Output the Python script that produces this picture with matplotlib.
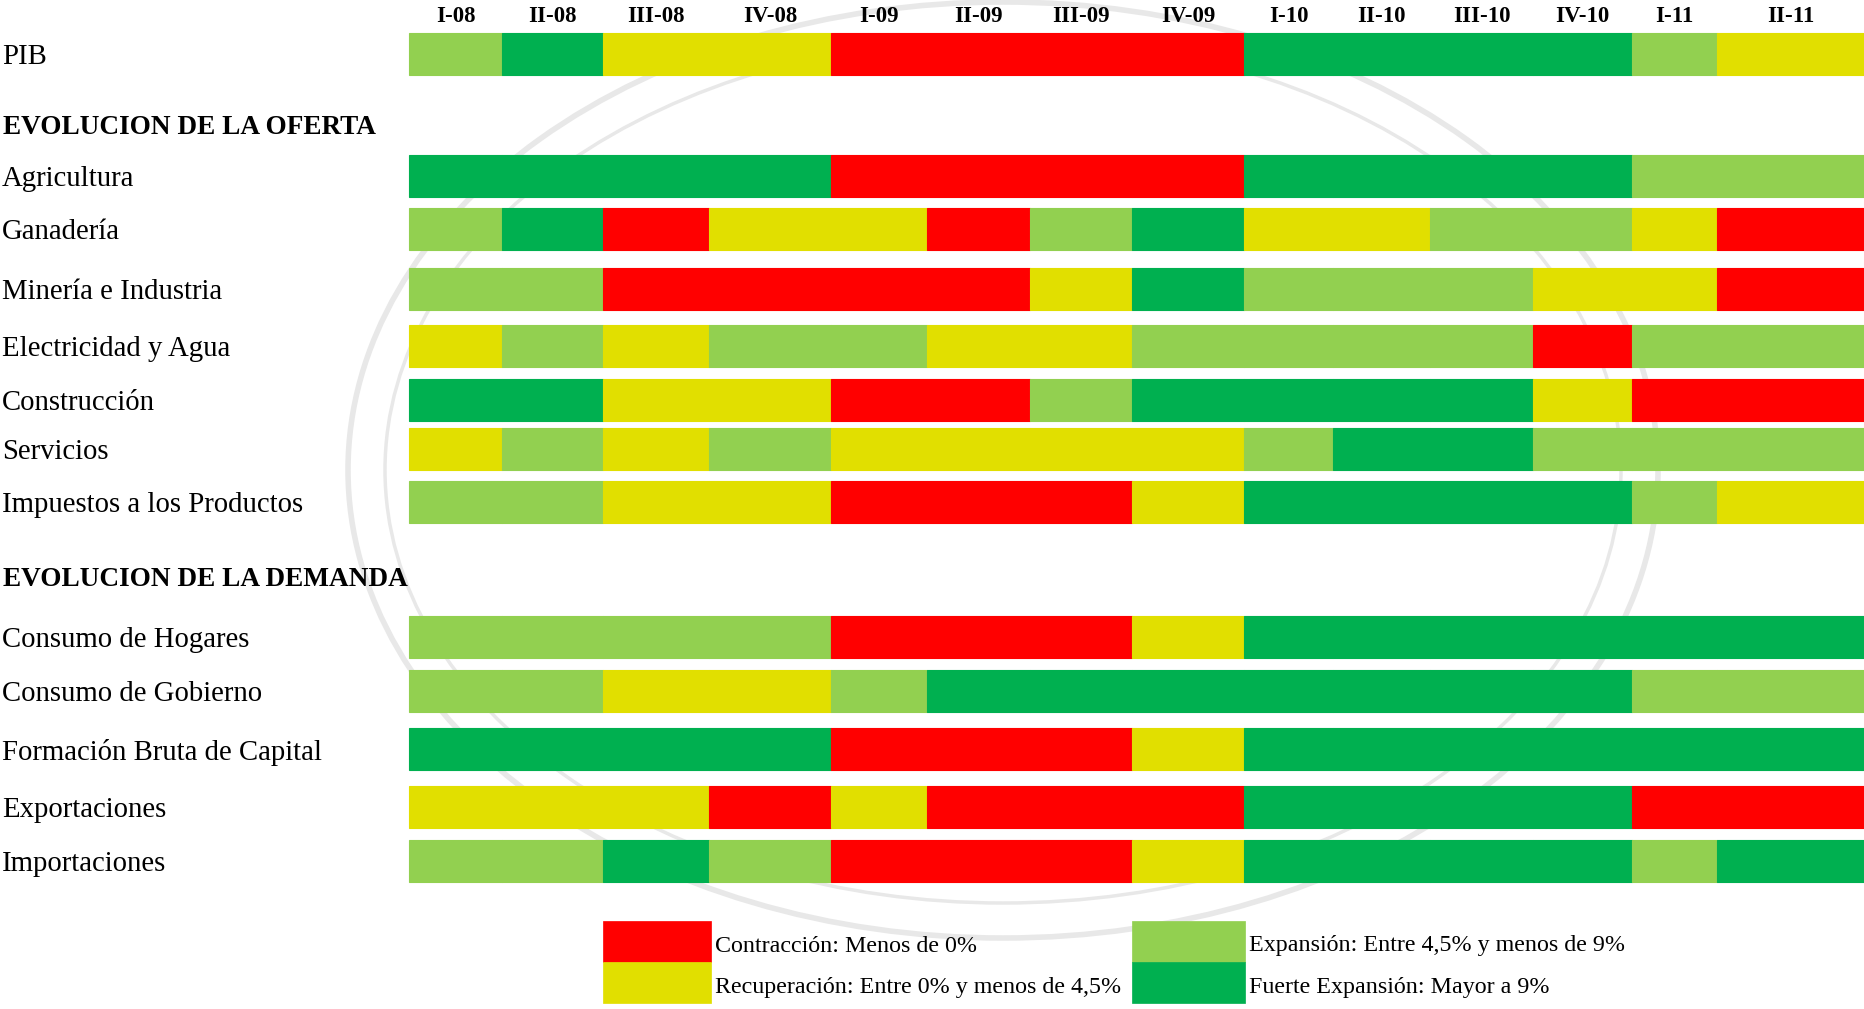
import matplotlib.pyplot as plt
from matplotlib.patches import Ellipse, Rectangle

# --- data -----------------------------------------------------------------
QUARTERS = ["I-08", "II-08", "III-08", "IV-08", "I-09", "II-09", "III-09",
            "IV-09", "I-10", "II-10", "III-10", "IV-10", "I-11", "II-11"]

# R = contraccion, Y = recuperacion, L = expansion, G = fuerte expansion
PIB = list("LGYYRRRRGGGGLY")
AGRICULTURA = list("GGGGRRRRGGGGLL")
GANADERIA = list("LGRYYRLGYYLLYR")
MINERIA = list("LLRRRRYGLLLYYR")
ELECTRICIDAD = list("YLYLLYYLLLLRLL")
CONSTRUCCION = list("GGYYRRLGGGGYRR")
SERVICIOS = list("YLYLYYYYLGGLLL")
IMPUESTOS = list("LLYYRRRYGGGGLY")
CONSUMO_HOGARES = list("LLLLRRRYGGGGGG")
CONSUMO_GOBIERNO = list("LLYYLGGGGGGGLL")
FBK = list("GGGGRRRYGGGGGG")
EXPORTACIONES = list("YYYRYRRRGGGGRR")
IMPORTACIONES = list("LLGLRRRYGGGGLG")

ROW_NAMES = ["PIB", "Agricultura", "Ganadería", "Minería e Industria",
             "Electricidad y Agua", "Construcción", "Servicios",
             "Impuestos a los Productos", "Consumo de Hogares",
             "Consumo de Gobierno", "Formación Bruta de Capital",
             "Exportaciones", "Importaciones"]
ROW_DATA = [PIB, AGRICULTURA, GANADERIA, MINERIA, ELECTRICIDAD, CONSTRUCCION,
            SERVICIOS, IMPUESTOS, CONSUMO_HOGARES, CONSUMO_GOBIERNO, FBK,
            EXPORTACIONES, IMPORTACIONES]

LEGEND_CODES = ["R", "Y", "L", "G"]
LEGEND_TEXT = ["Contracción: Menos de 0%",
               "Recuperación: Entre 0% y menos de 4,5%",
               "Expansión: Entre 4,5% y menos de 9%",
               "Fuerte Expansión: Mayor a 9%"]

# --- layout (pixels of the 1865x1009 canvas) -------------------------------
W, H = 1865, 1009
COL_EDGES = [409, 502, 603, 709, 831, 927, 1030, 1132, 1244, 1333, 1430,
             1533, 1632, 1717, 1865]
ROW_TOPS = [33, 155, 208, 268, 325, 379, 428, 481, 616, 670, 728, 786, 840]
BAR_H = 42
COLORS = {"R": "#FF0000", "Y": "#E1DF00", "L": "#92D050", "G": "#00B050"}

plt.rcParams["font.family"] = ["Liberation Serif", "DejaVu Serif"]

fig = plt.figure(figsize=(W / 100, H / 100), dpi=100)
ax = fig.add_axes([0, 0, 1, 1])
ax.set_xlim(0, W)
ax.set_ylim(H, 0)
ax.axis("off")

# faint seal watermark
for w, h, lw in [(1310, 936, 4), (1236, 866, 2.5)]:
    ax.add_patch(Ellipse((1003, 470), w, h, fill=False, edgecolor="#e8e8e8",
                         lw=lw, zorder=0))

lefts = COL_EDGES[:-1]
widths = [b - a for a, b in zip(COL_EDGES[:-1], COL_EDGES[1:])]

for top, name, codes in zip(ROW_TOPS, ROW_NAMES, ROW_DATA):
    cols = [COLORS[c] for c in codes]
    ax.barh(top + BAR_H / 2, widths, left=lefts, height=BAR_H, color=cols,
            edgecolor=cols, linewidth=0.8, zorder=2)
    ax.text(2, top + BAR_H / 2 + 3, name, fontsize=20.7, ha="left",
            va="center", color="black")

for i, q in enumerate(QUARTERS):
    ax.text((COL_EDGES[i] + COL_EDGES[i + 1]) / 2, 16, q, fontsize=16.5,
            fontweight="bold", ha="center", va="center")

ax.text(3, 128, "EVOLUCION DE LA OFERTA", fontsize=19.6, fontweight="bold",
        ha="left", va="center")
ax.text(3, 580, "EVOLUCION DE LA DEMANDA", fontsize=19.6, fontweight="bold",
        ha="left", va="center")

# legend
LEG_X = [603, 603, 1132, 1132]
LEG_Y = [921, 962, 921, 962]
LEG_W = [108, 108, 113, 113]
for x, y, sw, code, txt in zip(LEG_X, LEG_Y, LEG_W, LEGEND_CODES, LEGEND_TEXT):
    ax.add_patch(Rectangle((x, y), sw, 41, facecolor=COLORS[code],
                           edgecolor=COLORS[code], lw=0.5, zorder=2))
    ax.text(x + sw + 4, y + 25, txt, fontsize=17.3, ha="left", va="center")

fig.savefig("out.png", dpi=100)
